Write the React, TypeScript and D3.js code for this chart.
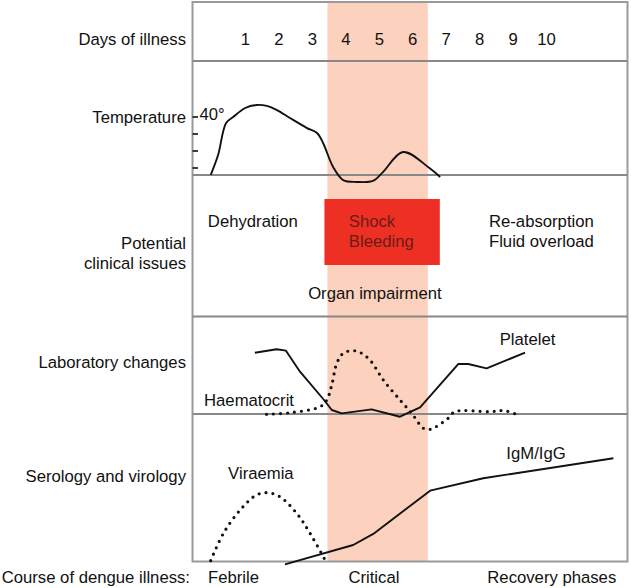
import React from "react";
import * as d3 from "d3";

// days of illness (x axis)
const days = [1, 2, 3, 4, 5, 6, 7, 8, 9, 10];
const criticalPhase = [3.45, 6.45];
const shockBox = [3.36, 6.81];

// temperature (deg C)
const tempTicks = [37, 38, 39, 40];
const tempDays = [-0.04, 0.18, 0.42, 0.63, 0.99, 1.34, 1.64, 1.94, 2.33, 2.84, 3.14, 3.32, 3.62, 3.92, 4.33, 4.81, 5.11, 5.71, 6.46, 6.82];
const tempValues = [36.59, 37.76, 39.65, 40.0, 40.53, 40.71, 40.65, 40.41, 39.94, 39.35, 39.06, 38.47, 37.06, 36.29, 36.18, 36.24, 36.76, 37.94, 37.06, 36.47];

// laboratory changes (relative units)
const plateletDays = [1.28, 1.93, 2.21, 2.63, 3.33, 3.58, 3.88, 4.77, 5.62, 6.22, 7.36, 7.66, 8.21, 9.36];
const plateletValues = [63.2, 66.7, 65.3, 43.6, 15.2, 4.1, 0.7, 4.8, -2.8, 6.9, 51.5, 51.5, 47.1, 63.2];
const haematocritDays = [1.63, 2.33, 3.23, 3.43, 3.58, 3.73, 3.92, 4.19, 4.42, 4.72, 5.12, 5.62, 5.97, 6.32, 6.52, 7.06, 7.26, 8.31, 8.76, 9.16];
const haematocritValues = [-0.3, 1.3, 7.5, 14.4, 29.9, 52.3, 62.6, 65.3, 63.6, 55.7, 35.1, 14.4, 0.7, -14.7, -15.8, -4.4, 2.4, 2.4, 3.4, -1.3];

// serology and virology (relative units)
const antibodyDays = [2.18, 4.22, 4.82, 6.52, 8.11, 12.0];
const antibodyValues = [-1.8, 11.3, 18.8, 48.1, 56.5, 70.0];
const viraemiaDays = [-0.04, 0.34, 0.84, 1.33, 1.68, 2.03, 2.53, 2.93, 3.38];
const viraemiaValues = [0.7, 19.2, 35.0, 45.2, 46.7, 44.0, 32.8, 19.2, 1.2];

const rowLabels = [["Days of illness"], ["Temperature"], ["Potential", "clinical issues"], ["Laboratory changes"], ["Serology and virology"]];
const phaseLabels = ["Febrile", "Critical", "Recovery phases"];

const App = () => {
  const ref = React.useRef<SVGSVGElement>(null);

  React.useEffect(() => {
    const width = 631;
    const height = 588;
    const box = { left: 192.5, right: 627.5, top: 2, bottom: 561.5 };
    const dividers = [61, 175, 316.5, 414];
    const font = "'Liberation Sans', Arial, Helvetica, sans-serif";
    const fs = 16.7;

    const svg = d3.select(ref.current);
    svg.selectAll("*").remove();
    svg.attr("width", width).attr("height", height);

    const x = d3.scaleLinear().domain([1, 10]).range([245.5, 546.5]);
    const yTemp = d3.scaleLinear().domain([37, 40]).range([168, 117]);
    const yLab = d3.scaleLinear().domain([0, 100]).range([414, 317]);
    const ySero = d3.scaleLinear().domain([0, 100]).range([561.7, 414]);

    // critical phase band
    svg.append("rect")
      .attr("x", x(criticalPhase[0]))
      .attr("y", box.top)
      .attr("width", x(criticalPhase[1]) - x(criticalPhase[0]))
      .attr("height", box.bottom - box.top)
      .attr("fill", "#fcd1bd");

    // frame + dividers
    svg.append("rect")
      .attr("x", box.left).attr("y", box.top)
      .attr("width", box.right - box.left).attr("height", box.bottom - box.top)
      .attr("fill", "none").attr("stroke", "#9a9a9a").attr("stroke-width", 2);

    svg.append("g").selectAll("line")
      .data(dividers)
      .join("line")
      .attr("x1", box.left).attr("x2", box.right)
      .attr("y1", d => d).attr("y2", d => d)
      .attr("stroke", "#888").attr("stroke-width", 1.8);

    // shock box
    svg.append("rect")
      .attr("x", x(shockBox[0])).attr("y", 199)
      .attr("width", x(shockBox[1]) - x(shockBox[0])).attr("height", 66)
      .attr("fill", "#ee3024");

    const text = (g, str, tx, ty, anchor = "start", fill = "#111") =>
      g.append("text")
        .attr("x", tx).attr("y", ty).attr("dy", "0.35em")
        .attr("text-anchor", anchor)
        .attr("font-family", font).attr("font-size", fs)
        .attr("fill", fill)
        .text(str);

    // row labels on the left
    const labelY = [[39.3], [116.7], [243.3, 262.7], [361.7], [475.7]];
    rowLabels.forEach((lines, i) => lines.forEach((l, j) => text(svg, l, 186, labelY[i][j], "end")));

    // day numbers
    svg.append("g").selectAll("text")
      .data(days)
      .join("text")
      .attr("x", d => x(d)).attr("y", 39.3).attr("dy", "0.35em")
      .attr("text-anchor", "middle")
      .attr("font-family", font).attr("font-size", fs).attr("fill", "#111")
      .text(d => d);

    // temperature ticks
    svg.append("g").selectAll("line")
      .data(tempTicks)
      .join("line")
      .attr("x1", box.left).attr("x2", box.left + 5.5)
      .attr("y1", d => yTemp(d)).attr("y2", d => yTemp(d))
      .attr("stroke", "#111").attr("stroke-width", 1.6);
    text(svg, "40°", 199.5, 114.5);

    const curve = (xs, ys, y, c) =>
      d3.line<number>().x((d, i) => x(xs[i])).y(d => y(d)).curve(c)(ys);

    const solid = (d) => svg.append("path").attr("d", d)
      .attr("fill", "none").attr("stroke", "#111").attr("stroke-width", 1.9)
      .attr("stroke-linejoin", "round");
    const dotted = (d) => svg.append("path").attr("d", d)
      .attr("fill", "none").attr("stroke", "#111").attr("stroke-width", 3.2)
      .attr("stroke-linecap", "round").attr("stroke-dasharray", "0 7");

    solid(curve(tempDays, tempValues, yTemp, d3.curveCatmullRom.alpha(0.5)));
    solid(curve(plateletDays, plateletValues, yLab, d3.curveLinear));
    dotted(curve(haematocritDays, haematocritValues, yLab, d3.curveCatmullRom.alpha(0.5)));
    solid(curve(antibodyDays, antibodyValues, ySero, d3.curveLinear));
    dotted(curve(viraemiaDays, viraemiaValues, ySero, d3.curveCatmullRom.alpha(0.5)));

    // clinical issues
    text(svg, "Dehydration", x(1.22), 220.7, "middle");
    text(svg, "Shock", x(4.09), 220.7, "start", "#6a1c16");
    text(svg, "Bleeding", x(4.09), 241, "start", "#6a1c16");
    text(svg, "Re-absorption", x(8.28), 220.7);
    text(svg, "Fluid overload", x(8.28), 241);
    text(svg, "Organ impairment", x(4.87), 293.3, "middle");

    // series labels
    text(svg, "Platelet", x(8.6), 339.3);
    text(svg, "Haematocrit", x(-0.24), 400);
    text(svg, "IgM/IgG", x(8.8), 452.7);
    text(svg, "Viraemia", x(0.48), 473.3);

    // course of illness
    text(svg, "Course of dengue illness:", 1.7, 576.7);
    text(svg, phaseLabels[0], x(-0.12), 576.7);
    text(svg, phaseLabels[1], x(4.84), 576.7, "middle");
    text(svg, phaseLabels[2], x(8.23), 576.7);
  }, []);

  return (
    <svg
      ref={ref}
      style={{ position: "absolute", left: 0, top: 0, background: "#fff" }}
    />
  );
};

export default App;
